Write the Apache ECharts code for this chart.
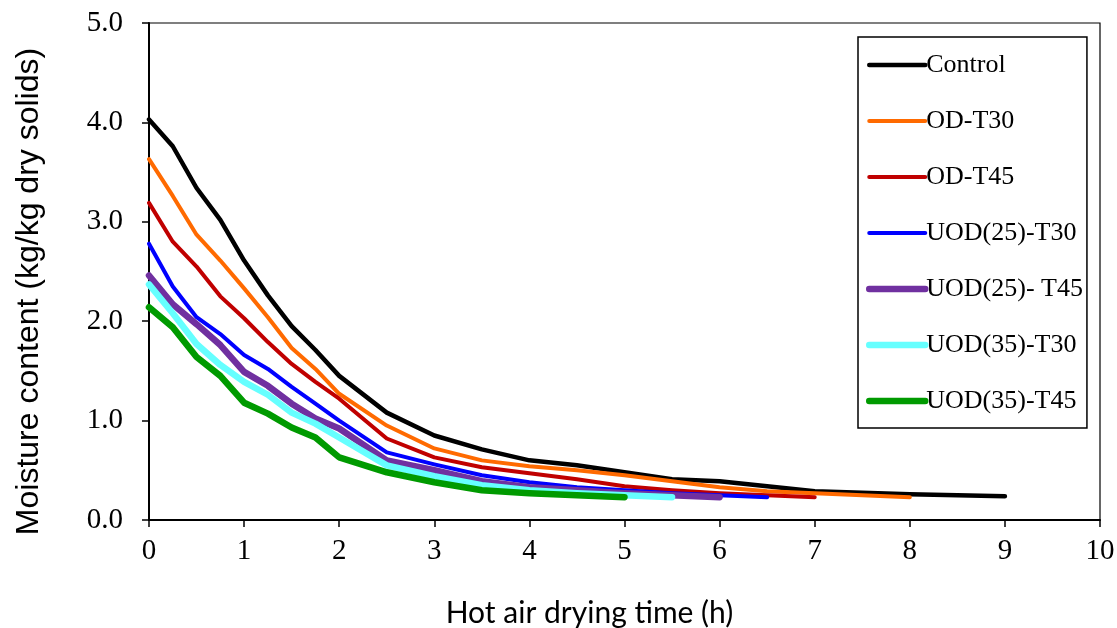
<!DOCTYPE html>
<html>
<head>
<meta charset="utf-8">
<script src="https://cdn.jsdelivr.net/npm/echarts@6/dist/echarts.min.js"></script>
<style>
  html, body { margin: 0; padding: 0; background: #fff; }
  #chart { width: 1117px; height: 628px; }
</style>
</head>
<body>
<div id="chart"></div>
<script>
// hours of hot air drying
const tShort = [0, 0.25, 0.5, 0.75, 1, 1.25, 1.5, 1.75, 2, 2.5, 3, 3.5, 4, 4.5, 5, 5.5, 6, 6.5, 7];
const tControl = tShort.concat([8, 9]);
const tOD30 = tShort.concat([8]);

// moisture content (kg/kg dry solids)
const control = [4.03, 3.76, 3.34, 3.02, 2.61, 2.26, 1.95, 1.71, 1.45, 1.08, 0.85, 0.71, 0.60, 0.55, 0.48, 0.41, 0.39, 0.34, 0.29, 0.26, 0.24];
const odT30 = [3.63, 3.26, 2.87, 2.61, 2.33, 2.04, 1.73, 1.52, 1.27, 0.95, 0.72, 0.60, 0.54, 0.50, 0.45, 0.39, 0.33, 0.29, 0.27, 0.23];
const odT45 = [3.19, 2.80, 2.55, 2.25, 2.03, 1.79, 1.57, 1.39, 1.22, 0.82, 0.63, 0.53, 0.47, 0.41, 0.34, 0.30, 0.27, 0.25, 0.23];
const uod25T30 = [2.78, 2.35, 2.04, 1.87, 1.66, 1.52, 1.34, 1.17, 1.00, 0.68, 0.56, 0.45, 0.38, 0.33, 0.30, 0.27, 0.25, 0.23];
const uod25T45 = [2.46, 2.17, 1.97, 1.76, 1.49, 1.35, 1.17, 1.02, 0.92, 0.60, 0.50, 0.39, 0.33, 0.30, 0.27, 0.25, 0.23];
const uod35T30 = [2.37, 2.08, 1.77, 1.56, 1.39, 1.26, 1.08, 0.97, 0.83, 0.55, 0.44, 0.35, 0.30, 0.27, 0.25, 0.23];
const uod35T45 = [2.14, 1.94, 1.64, 1.45, 1.18, 1.07, 0.93, 0.83, 0.63, 0.48, 0.38, 0.30, 0.27, 0.25, 0.23];

const names = ['Control', 'OD-T30', 'OD-T45', 'UOD(25)-T30', 'UOD(25)- T45', 'UOD(35)-T30', 'UOD(35)-T45'];
const colors = ['#000000', '#FF6A00', '#C00000', '#0000FF', '#7030A0', '#66FFFF', '#009A00'];
const widths = [4.5, 4, 4, 4, 6.5, 6.5, 6.5];

const xs = [tControl, tOD30, tShort, tShort, tShort, tShort, tShort];
const ys = [control, odT30, odT45, uod25T30, uod25T45, uod35T30, uod35T45];

const serif = '"Liberation Serif", "Times New Roman", serif';

let myChart = echarts.init(document.getElementById('chart'));

myChart.setOption({
    animation: false,
    backgroundColor: '#fff',
    grid: {
        left: 149, right: 17, top: 23, bottom: 108,
        containLabel: false,
        outerBoundsMode: 'none',
        show: true, borderColor: '#000', borderWidth: 1.2
    },
    legend: {
        orient: 'vertical',
        left: 858, top: 37,
        backgroundColor: '#fff',
        borderColor: '#000', borderWidth: 1.5,
        padding: [13, 4, 12, 8],
        itemGap: 26,
        itemWidth: 56,
        itemHeight: 14,
        itemStyle: { opacity: 0 }, // hide the dot, keep only the line
        data: names.map((n, i) => ({
            name: n,
            lineStyle: { color: colors[i], width: widths[i], cap: 'round' }
        })),
        textStyle: { fontFamily: serif, fontSize: 26, color: '#000', lineHeight: 30, padding: [0, 0, 0, -4] }
    },
    xAxis: {
        type: 'value',
        min: 0, max: 10, interval: 1,
        name: 'Hot air drying time (h)',
        nameLocation: 'middle',
        nameGap: 78,
        nameTextStyle: { fontFamily: 'Lato, "Open Sans", sans-serif', fontSize: 30, color: '#000', padding: [0, 70, 0, 0] },
        axisLine: { onZero: false, lineStyle: { color: '#000', width: 2 } },
        axisTick: { show: true, inside: false, length: 7, lineStyle: { color: '#000', width: 1.5 } },
        axisLabel: { margin: 17, fontFamily: serif, fontSize: 29, color: '#000' },
        splitLine: { show: false }
    },
    yAxis: {
        type: 'value',
        min: 0, max: 5, interval: 1,
        name: 'Moisture content (kg/kg dry solids)',
        nameLocation: 'middle',
        nameGap: 104,
        nameTextStyle: { fontFamily: '"Liberation Sans", Arial, sans-serif', fontSize: 32, color: '#000', padding: [0, 40, 0, 0] },
        axisLine: { show: true, onZero: false, lineStyle: { color: '#000', width: 2 } },
        axisTick: { show: true, inside: false, length: 7, lineStyle: { color: '#000', width: 1.5 } },
        axisLabel: { margin: 26, fontFamily: serif, fontSize: 29, color: '#000', formatter: v => v.toFixed(1) },
        splitLine: { show: false }
    },
    series: names.map((n, i) => ({
        name: n,
        type: 'line',
        symbol: 'none',
        showSymbol: false,
        color: colors[i],
        lineStyle: { color: colors[i], width: widths[i], cap: 'round', join: 'round' },
        data: xs[i].slice(0, ys[i].length).map((t, j) => [t, ys[i][j]]),
        z: 2 + i
    }))
});
</script>
</body>
</html>
